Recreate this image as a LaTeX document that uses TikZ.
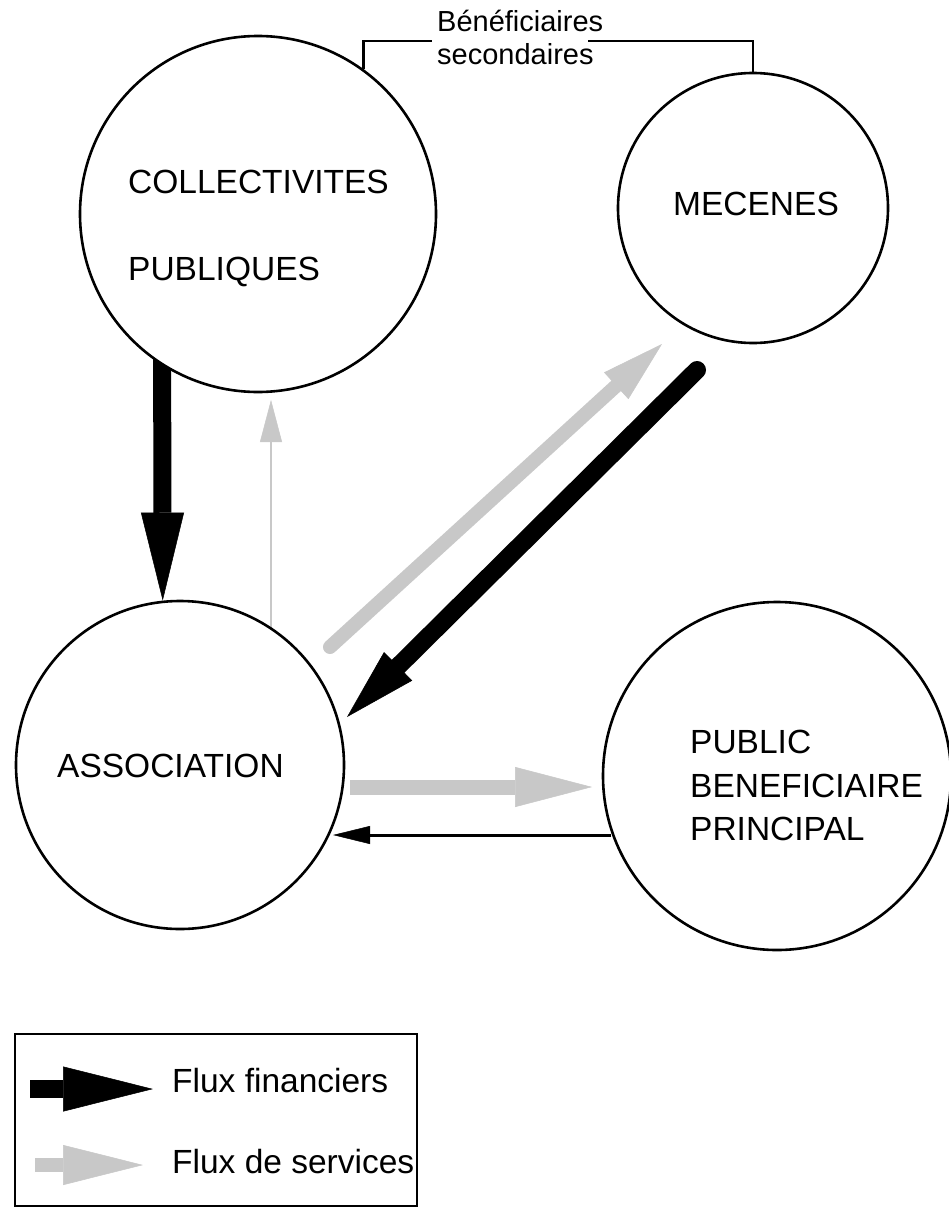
\documentclass[tikz,border=0pt]{standalone}
\usepackage{fontspec}
\setmainfont{Liberation Sans}
\usetikzlibrary{arrows.meta,backgrounds}
\definecolor{svc}{RGB}{200,200,200}
\begin{document}
\begin{tikzpicture}[x=1pt,y=-1pt,
  actor/.style={circle,draw,line width=2.6pt,fill=white,inner sep=0pt},
  lbl/.style={anchor=base west,inner sep=0pt,font=\fontsize{33.5}{40}\selectfont},
  smalllbl/.style={anchor=base west,inner sep=0pt,font=\fontsize{29}{34}\selectfont},
  bracket/.style={line width=2.6pt},
  finbig/.style={line width=18pt,-{Triangle[length=88pt,width=43pt,line width=0.5pt]}},
  findiag/.style={line width=18pt,line cap=round,-{Triangle[length=72pt,width=40pt,line width=0.5pt]}},
  finthin/.style={line width=3pt,-{Triangle[length=37pt,width=18pt,line width=0.5pt]}},
  svcdiag/.style={svc,line width=14pt,line cap=round,-{Triangle[length=62pt,width=36pt,line width=0.5pt]}},
  svcbig/.style={svc,line width=15pt,-{Triangle[length=77pt,width=40pt,line width=0.5pt]}},
  svcthin/.style={svc,line width=2pt,-{Triangle[length=42pt,width=22pt,line width=0.5pt]}},
  legfin/.style={line width=18pt,-{Triangle[length=90pt,width=45pt,line width=0.5pt]}},
  legsvc/.style={svc,line width=14pt,-{Triangle[length=80pt,width=40pt,line width=0.5pt]}}
]
\useasboundingbox (0,0) rectangle (949,1207);

% actors
\node[actor,minimum size=356pt] (coll) at (258,214) {};
\node[actor,minimum size=270pt] (mec) at (753,208) {};
\node[actor,minimum size=328pt] (assoc) at (180,765) {};
\node[actor,minimum size=348pt] (pub) at (777,776) {};

% labels
\node[lbl] (tcoll1) at (128,193) {COLLECTIVITES};
\node[lbl] (tcoll2) at (128,280) {PUBLIQUES};
\node[lbl] (tmec) at (673,215) {MECENES};
\node[lbl] (tassoc) at (57,777) {ASSOCIATION};
\node[lbl] (tpub1) at (690,753) {PUBLIC};
\node[lbl] (tpub2) at (690,797) {BENEFICIAIRE};
\node[lbl] (tpub3) at (690,840) {PRINCIPAL};
\node[smalllbl] (tsec1) at (437,32) {Bénéficiaires};
\node[smalllbl] (tsec2) at (437,65) {secondaires};

% bracket "Beneficiaires secondaires"
\coordinate (bL) at (432,41);
\coordinate (bR) at (588,41);
\draw[bracket] (coll.54.3) |- (bL);
\draw[bracket] (bR) -| (mec.north);

% flow coordinates
\coordinate (downS) at (162,330);
\coordinate (upS) at (271,700);
\coordinate (upE) at (271,400);
\coordinate (gdS) at (330,647);
\coordinate (gdE) at (662,344);
\coordinate (bdS) at (697,370);
\coordinate (bdE) at (347,717);
\coordinate (ghS) at (350,787);
\coordinate (ghE) at (592,787);
\coordinate (ftE) at (333,835);

% legend
\node[draw,line width=2.4pt,minimum width=402pt,minimum height=172pt,inner sep=0pt] (legend) at (216,1120) {};
\coordinate (lfS) at (30,1089);
\coordinate (lfE) at (153,1089);
\coordinate (lsS) at (35,1165);
\coordinate (lsE) at (143,1165);
\node[lbl] (tlf) at (172,1092) {Flux financiers};
\node[lbl] (tls) at (172,1173) {Flux de services};

\begin{scope}[on background layer]
  \fill[white] (0,0) rectangle (949,1207);
  \draw[finbig] (downS) -- (assoc.96.3);
  \draw[svcthin] (upS) -- (upE);
  \draw[svcdiag] (gdS) -- (gdE);
  \draw[findiag] (bdS) -- (bdE);
  \draw[svcbig] (ghS) -- (ghE);
  \draw[finthin] (pub.199.8 |- ftE) -- (ftE);
  \draw[legfin] (lfS) -- (lfE);
  \draw[legsvc] (lsS) -- (lsE);
\end{scope}
\end{tikzpicture}
\end{document}
